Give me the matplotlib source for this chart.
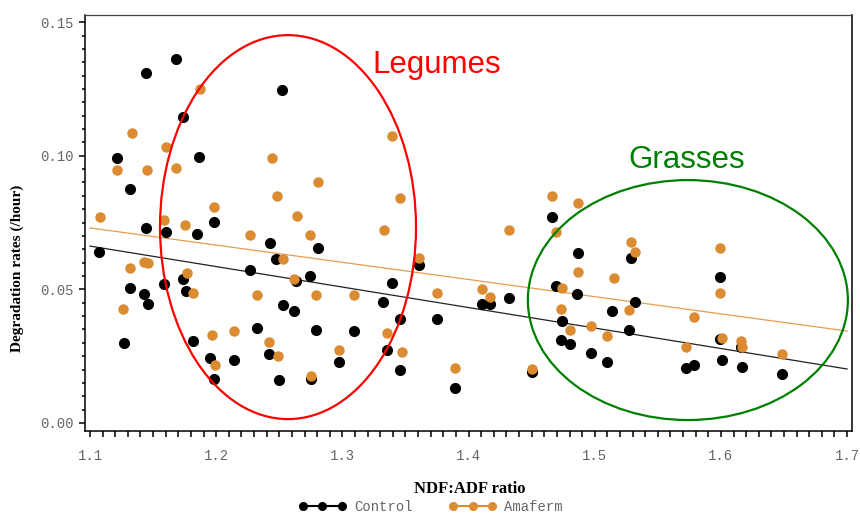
import matplotlib
matplotlib.use("Agg")
import matplotlib.pyplot as plt
from matplotlib.patches import Ellipse
from matplotlib.ticker import MultipleLocator

# Control (black) points
control_x = [1.107, 1.121, 1.127, 1.132, 1.132, 1.143, 1.144, 1.144, 1.146, 1.159,
             1.160, 1.168, 1.174, 1.174, 1.176, 1.182, 1.185, 1.186, 1.195, 1.198,
             1.198, 1.214, 1.227, 1.232, 1.243, 1.242, 1.247, 1.250, 1.252, 1.253,
             1.262, 1.263, 1.274, 1.275, 1.279, 1.281, 1.297, 1.309, 1.332, 1.335,
             1.339, 1.346, 1.346, 1.361, 1.375, 1.389, 1.411, 1.417, 1.432, 1.450,
             1.466, 1.487, 1.469, 1.486, 1.474, 1.473, 1.480, 1.529, 1.532, 1.514,
             1.527, 1.497, 1.510, 1.599, 1.599, 1.616, 1.572, 1.579, 1.601, 1.617,
             1.648]
control_y = [0.0640, 0.0991, 0.0299, 0.0875, 0.0505, 0.0483, 0.1309, 0.0730, 0.0445, 0.0520,
             0.0715, 0.1362, 0.1145, 0.0539, 0.0494, 0.0307, 0.0707, 0.0995, 0.0243, 0.0752,
             0.0165, 0.0236, 0.0572, 0.0355, 0.0673, 0.0258, 0.0614, 0.0161, 0.1246, 0.0441,
             0.0419, 0.0531, 0.0550, 0.0165, 0.0348, 0.0655, 0.0228, 0.0344, 0.0453, 0.0273,
             0.0524, 0.0198, 0.0389, 0.0591, 0.0389, 0.0131, 0.0445, 0.0445, 0.0468, 0.0191,
             0.0771, 0.0636, 0.0513, 0.0483, 0.0382, 0.0311, 0.0296, 0.0617, 0.0453, 0.0419,
             0.0348, 0.0262, 0.0228, 0.0546, 0.0314, 0.0284, 0.0206, 0.0217, 0.0236, 0.0210,
             0.0183]

# Amaferm (orange) points
amaferm_x = [1.108, 1.121, 1.126, 1.132, 1.133, 1.145, 1.143, 1.146, 1.159, 1.160,
             1.168, 1.175, 1.177, 1.182, 1.187, 1.197, 1.198, 1.199, 1.214, 1.227,
             1.232, 1.242, 1.244, 1.248, 1.249, 1.253, 1.262, 1.264, 1.274, 1.275,
             1.279, 1.281, 1.297, 1.309, 1.333, 1.335, 1.339, 1.346, 1.347, 1.361,
             1.375, 1.389, 1.411, 1.417, 1.432, 1.450, 1.466, 1.469, 1.487, 1.473,
             1.487, 1.474, 1.480, 1.497, 1.510, 1.515, 1.529, 1.532, 1.527, 1.579,
             1.572, 1.599, 1.599, 1.601, 1.616, 1.617, 1.648]
amaferm_y = [0.0771, 0.0947, 0.0426, 0.0580, 0.1085, 0.0947, 0.0602, 0.0599, 0.0759, 0.1033,
             0.0954, 0.0741, 0.0561, 0.0486, 0.1249, 0.0329, 0.0808, 0.0217, 0.0344, 0.0703,
             0.0479, 0.0303, 0.0991, 0.0849, 0.0251, 0.0614, 0.0539, 0.0774, 0.0703, 0.0176,
             0.0479, 0.0902, 0.0273, 0.0479, 0.0722, 0.0337, 0.1074, 0.0842, 0.0266, 0.0617,
             0.0486, 0.0206, 0.0501, 0.0471, 0.0722, 0.0202, 0.0849, 0.0715, 0.0823, 0.0426,
             0.0565, 0.0505, 0.0348, 0.0363, 0.0325, 0.0542, 0.0677, 0.0640, 0.0423, 0.0397,
             0.0284, 0.0655, 0.0486, 0.0318, 0.0307, 0.0284, 0.0258]

# fitted regression lines (end points)
fit_x = [1.1, 1.7]
control_fit = [0.0662, 0.0202]
amaferm_fit = [0.0730, 0.0344]

x_ticks = [1.1, 1.2, 1.3, 1.4, 1.5, 1.6, 1.7]
y_ticks = [0.00, 0.05, 0.10, 0.15]

black = "#000000"
orange = "#DB8B30"
mono = "Liberation Mono"
serif = "Liberation Serif"

fig = plt.figure(figsize=(8.6, 5.14), dpi=100)
ax = fig.add_axes([0.0988, 0.1615, 0.8915, 0.8099])

ax.plot(fit_x, control_fit, color="#222222", lw=0.9, zorder=2)
ax.plot(fit_x, amaferm_fit, color="#E59D50", lw=0.9, zorder=2)

ax.plot(control_x, control_y, "o", color=black, ms=7, mec=black, zorder=3, label="Control")
ax.plot(amaferm_x, amaferm_y, "o", color=orange, ms=6.5, mec=orange, zorder=4, label="Amaferm")

# group annotations
ax.add_patch(Ellipse((1.2569, 0.0733), 0.2029, 0.1437, fill=False,
                     ec="#FF0000", lw=1.6, clip_on=False, zorder=5))
ax.add_patch(Ellipse((1.5738, 0.0460), 0.2536, 0.0898, fill=False,
                     ec="#008000", lw=1.6, clip_on=False, zorder=5))
ax.text(1.375, 0.134, "Legumes", color="#FF0000", fontsize=22.5,
        family="Liberation Sans", ha="center", va="center")
ax.text(1.573, 0.0984, "Grasses", color="#008000", fontsize=22.5,
        family="Liberation Sans", ha="center", va="center")

ax.set_xlim(1.096, 1.7036)
ax.set_ylim(-0.003, 0.1528)
ax.set_xticks(x_ticks)
ax.set_xticklabels([f"{v:.1f}" for v in x_ticks], family=mono, fontsize=10, color="#666666")
ax.set_yticks(y_ticks)
ax.set_yticklabels([f"{v:.2f}" for v in y_ticks], family=mono, fontsize=10, color="#666666")
ax.xaxis.set_minor_locator(MultipleLocator(0.01))
ax.yaxis.set_minor_locator(MultipleLocator(0.005))
ax.tick_params(axis="x", which="both", length=4, width=1.1, pad=9, direction="out")
ax.tick_params(axis="y", which="major", length=4.5, width=1.1, pad=4)
ax.tick_params(axis="y", which="minor", length=2.5, width=1.1)

for s in ax.spines.values():
    s.set_linewidth(1.1)
ax.spines["top"].set_color("#444444")
ax.spines["top"].set_linewidth(0.9)

ax.set_xlabel("NDF:ADF ratio", family=serif, fontweight="bold", fontsize=12)
ax.xaxis.set_label_coords(0.5015, -0.12)
ax.set_ylabel("Degradation rates (/hour)", family=serif, fontweight="bold", fontsize=11)
ax.yaxis.set_label_coords(-0.08, 0.39)

fig.legend(loc="center", bbox_to_anchor=(0.501, 0.014), ncol=2, frameon=False,
           numpoints=3, handlelength=3.4, handletextpad=0.6, columnspacing=2.6,
           prop={"family": mono, "size": 10}, labelcolor="#666666")
leg = fig.legends[0]
for h, c in zip(leg.legend_handles, [black, orange]):
    h.set_linestyle("-")
    h.set_color(c)
    h.set_markersize(5.5)

fig.savefig("out.png", dpi=100)
